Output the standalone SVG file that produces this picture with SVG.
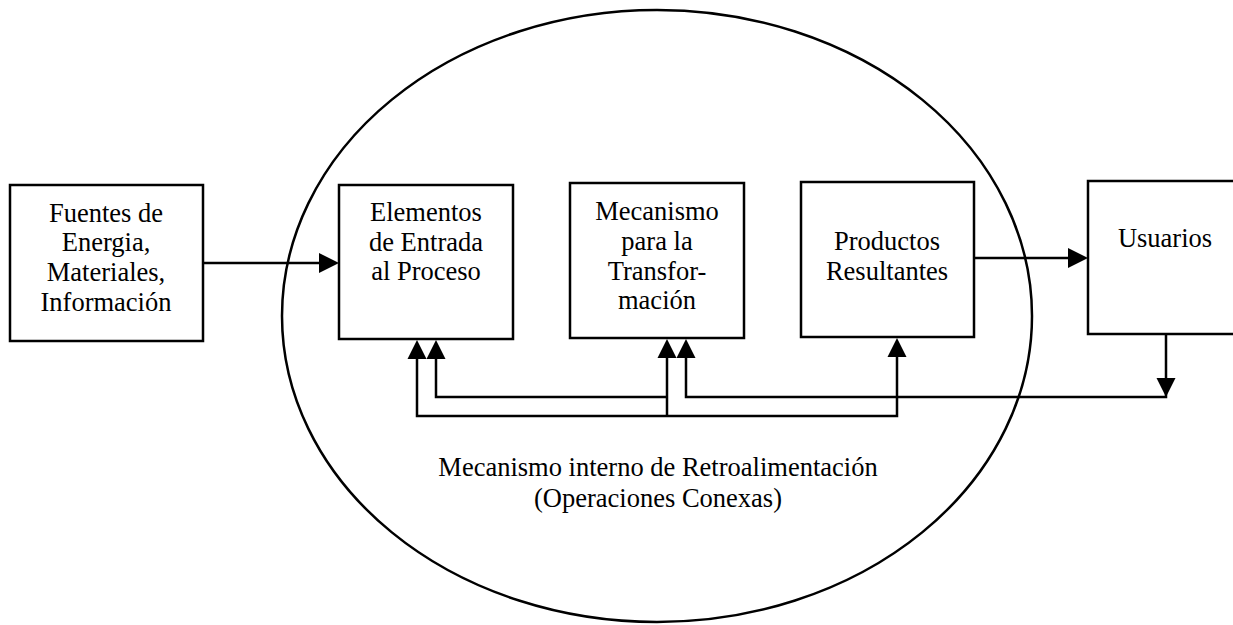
<svg xmlns="http://www.w3.org/2000/svg" width="1233" height="625" viewBox="0 0 1233 625">
<style>
.box{fill:none;stroke:#000;stroke-width:2.5}
.ln{fill:none;stroke:#000;stroke-width:2.5}
.ah{fill:#000;stroke:none}
text{font-family:"Liberation Serif","Times New Roman",serif;font-size:26.5px;fill:#000;text-anchor:middle}
</style>
<rect width="1233" height="625" fill="#fff"/>
<g id="ellipse">
<ellipse cx="657" cy="316" rx="375" ry="306" class="ln"/>
</g>
<g id="fuentes">
<rect x="10" y="185" width="193" height="156" class="box"/>
<text x="106" y="222">Fuentes de</text>
<text x="106" y="251">Energia,</text>
<text x="106" y="281">Materiales,</text>
<text x="106" y="311">Información</text>
</g>
<g id="elementos">
<rect x="339" y="185" width="174" height="154" class="box"/>
<text x="426" y="221">Elementos</text>
<text x="426" y="251">de Entrada</text>
<text x="426" y="280">al Proceso</text>
</g>
<g id="mecanismo">
<rect x="570" y="183" width="174" height="155" class="box"/>
<text x="657" y="220">Mecanismo</text>
<text x="657" y="250">para la</text>
<text x="657" y="280">Transfor-</text>
<text x="657" y="309">mación</text>
</g>
<g id="productos">
<rect x="801" y="182" width="173" height="155" class="box"/>
<text x="887" y="250">Productos</text>
<text x="887" y="280">Resultantes</text>
</g>
<g id="usuarios">
<rect x="1088" y="181" width="160" height="153" class="box"/>
<text x="1165" y="247">Usuarios</text>
</g>
<g id="label">
<text x="658" y="476">Mecanismo interno de Retroalimentación</text>
<text x="658" y="507">(Operaciones Conexas)</text>
</g>
<g id="connectors">
<path class="ln" d="M203 263H322"/>
<polygon class="ah" points="339,263 319,253 319,273"/>
<path class="ln" d="M974 258H1071"/>
<polygon class="ah" points="1088,258 1068,248 1068,268"/>
<path class="ln" d="M417 357V416H897V355"/>
<path class="ln" d="M436 357V397H667"/>
<path class="ln" d="M667 355V416"/>
<path class="ln" d="M686 355V397H1166V334"/>
<polygon class="ah" points="417,340 407.5,359 426.5,359"/>
<polygon class="ah" points="436,340 426.5,359 445.5,359"/>
<polygon class="ah" points="667,339 657.5,358 676.5,358"/>
<polygon class="ah" points="686,339 676.5,358 695.5,358"/>
<polygon class="ah" points="897,338 887.5,357 906.5,357"/>
<polygon class="ah" points="1166,397 1156.5,378 1175.5,378"/>
</g>
</svg>
